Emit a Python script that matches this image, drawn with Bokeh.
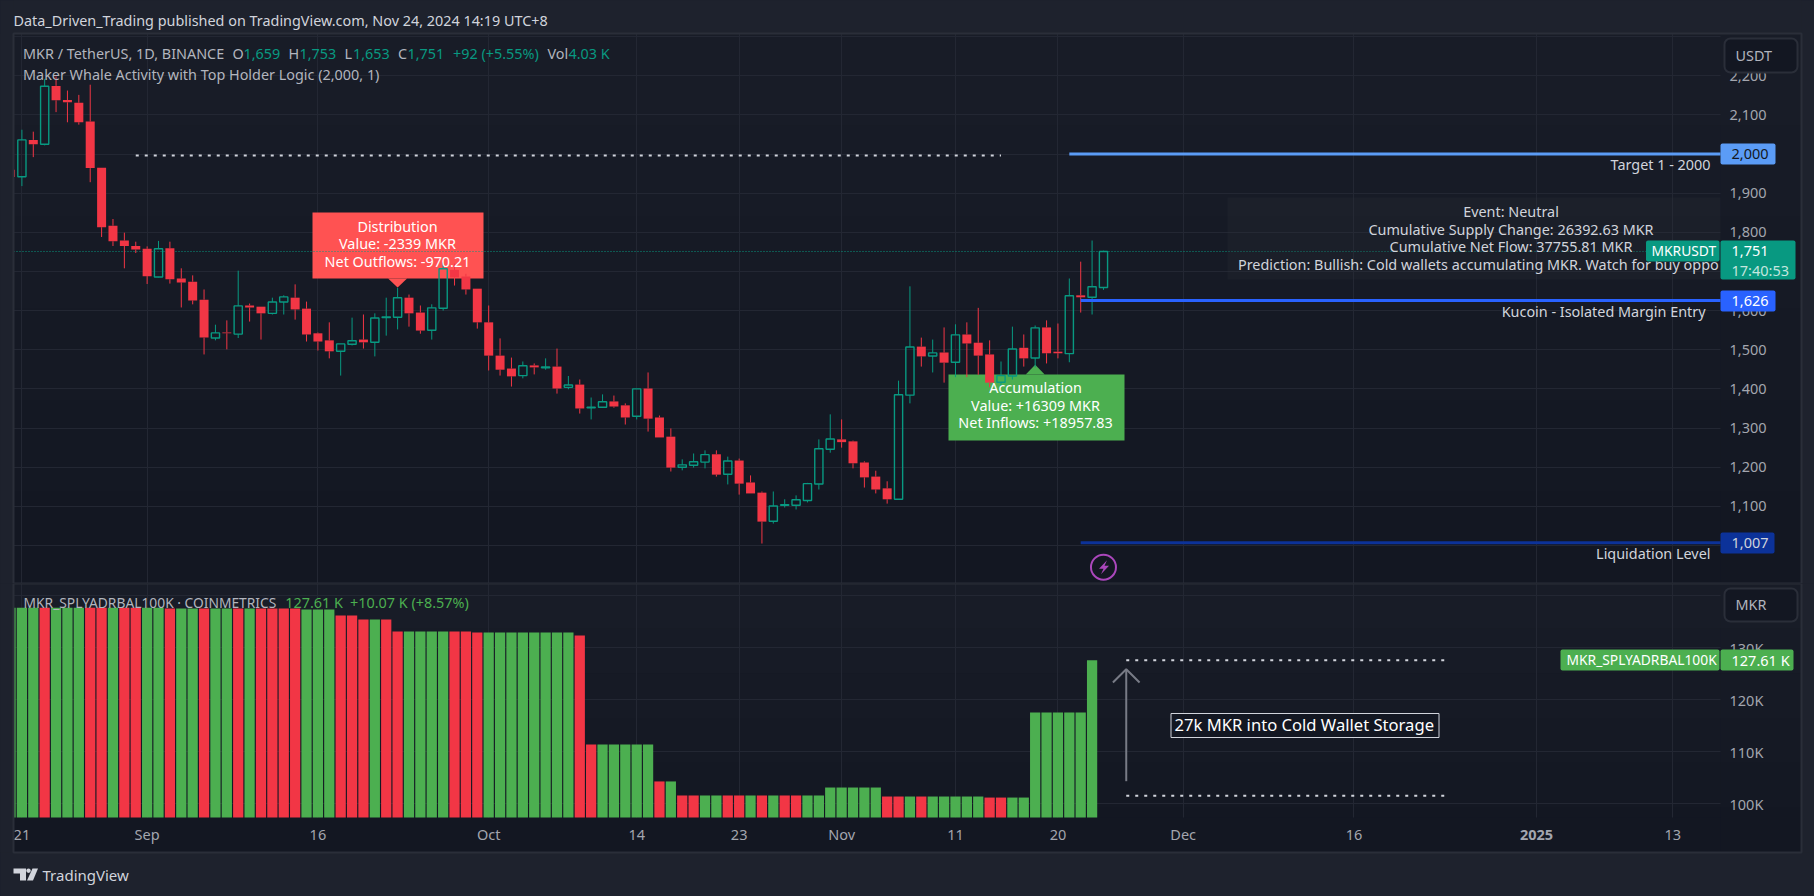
from bokeh.plotting import figure
from bokeh.layouts import column
from bokeh.embed import file_html
from bokeh.resources import INLINE
from bokeh.core.properties import value
from bokeh.models import (Range1d, FixedTicker, NumeralTickFormatter, Label, BoxAnnotation,
                          PolyAnnotation, GlobalInlineStyleSheet)
import math

# ---- data: one entry per day, the first one is 20 Aug 2024 ----
opens = [1960,1942,2036,2025,2174,2138,2131,2083,1965,1817,1779,1765,1758,1686,1759,1682,1674,1628,1530,1544,
         1540,1613,1610,1593,1622,1633,1605,1542,1524,1496,1514,1526,1519,1582,1583,1633,1595,1550,1606,1704,
         1687,1656,1570,1485,1452,1434,1460,1454,1457,1404,1411,1352,1353,1368,1358,1330,1401,1327,1278,1200,
         1205,1213,1233,1182,1217,1161,1135,1062,1103,1103,1115,1157,1246,1271,1266,1212,1176,1146,1118,1384,
         1508,1484,1493,1468,1539,1518,1488,1417,1433,1505,1479,1557,1495,1490,1639,1634,1659]
highs = [1975,2062,2057,2192,2198,2162,2151,2177,1965,1834,1799,1776,1764,1778,1776,1708,1690,1654,1564,1575,
         1702,1618,1610,1633,1639,1667,1623,1544,1570,1515,1582,1590,1593,1633,1658,1641,1613,1616,1723,1720,
         1694,1656,1613,1529,1480,1470,1465,1478,1503,1433,1424,1378,1386,1383,1363,1400,1442,1332,1299,1220,
         1235,1243,1243,1227,1222,1179,1138,1138,1118,1128,1160,1271,1335,1322,1268,1215,1191,1164,1421,1662,
         1531,1526,1557,1565,1570,1607,1524,1470,1559,1539,1562,1575,1567,1682,1725,1779,1753]
lows = [1935,1918,1992,2022,2107,2081,2075,1928,1788,1765,1708,1747,1668,1685,1669,1608,1616,1488,1524,1501,
        1530,1572,1526,1590,1590,1577,1521,1498,1478,1434,1511,1503,1483,1536,1552,1559,1541,1526,1600,1664,
        1641,1554,1447,1434,1406,1427,1437,1449,1388,1399,1337,1322,1353,1352,1309,1322,1291,1276,1189,1192,
        1199,1197,1176,1156,1130,1133,1005,1056,1097,1092,1110,1143,1237,1250,1197,1148,1133,1107,1118,1363,
        1457,1442,1416,1430,1430,1436,1404,1404,1424,1457,1455,1465,1478,1468,1595,1590,1653]
closes = [1941,2036,2025,2173,2137,2132,2081,1964,1813,1777,1765,1756,1688,1758,1680,1672,1626,1531,1543,1542,
          1612,1608,1593,1622,1635,1603,1539,1521,1496,1515,1523,1519,1581,1584,1633,1593,1549,1607,1707,1685,
          1654,1570,1485,1449,1432,1459,1455,1456,1401,1410,1350,1353,1367,1355,1327,1400,1324,1276,1199,1206,
          1214,1232,1181,1216,1158,1133,1061,1101,1104,1117,1158,1247,1272,1264,1210,1174,1143,1118,1385,1507,
          1483,1492,1467,1538,1516,1485,1416,1434,1502,1478,1556,1491,1491,1638,1634,1661,1751]
candle_days = list(range(-1, 96))

balance_k = [137.7,137.7,137.7,137.7,137.7,137.7,137.7,137.7,137.7,137.7,137.7,137.7,137.7,137.7,
             137.56,137.56,137.56,137.56,137.56,137.56,137.56,137.56,137.56,137.56,137.56,137.56,
             137.36,137.36,137.36,136.2,136.2,135.44,135.44,135.44,
             133.13,133.13,133.13,133.13,133.13,133.13,133.13,
             132.94,132.94,132.94,132.94,132.94,132.94,132.94,132.94,132.94,132.37,
             111.4,111.4,111.4,111.4,111.4,111.4,104.3,104.3,
             101.6,101.6,101.6,101.6,101.6,101.6,101.6,101.6,101.6,101.6,101.6,101.6,101.6,
             103.13,103.13,103.13,103.13,103.13,
             101.4,101.4,101.4,101.4,101.4,101.4,101.4,101.4,101.4,
             101.2,101.2,101.2,101.2,
             117.54,117.54,117.54,117.54,117.54,127.61]
balance_dirs = "gggrgggrrgrrggrggrggrgrrrrgggrrrgrrggggrrrggggggggrrgggggrgrrggrrgrgrrgggggggrrgrgggggrrgggggggg"
balance_days = list(range(-1, 95))

date_ticks = [0, 11, 26, 41, 54, 63, 72, 82, 91, 102, 117, 133, 145]
date_labels = ["21", "Sep", "16", "Oct", "14", "23", "Nov", "11", "20", "Dec", "16", "", "13"]
price_ticks = [1000,1100,1200,1300,1400,1500,1600,1700,1800,1900,2000,2100,2200,2300]
bal_ticks = [100, 110, 120, 130, 140]
bal_labels = ["100K", "110K", "120K", "130K", ""]

target_price, entry_price, liq_price, last_price = 2000, 1626, 1007, 1751
dotted_top = 1996
bal_hi, bal_lo = 127.61, 101.54

# ---- colours and scales ----
OUTER = "#1e222d"; EDGE = "#2a2e39"; GRID = "#232733"; AXTXT = "#a3a6af"; TXT = "#d1d4dc"
UP = "#089981"; DOWN = "#f23645"; BAR_UP = "#4caf50"; FONT = "Noto Sans"
T = "14.4px"; AX = "14.5px"

def X(sx): return (sx - 21.4) / 11.385
def Y1(sy): return 2000 - (sy - 153.5) / 0.3915
def Y2(sy): return 100 + (803.3 - sy) / 5.2

# the frames fill the canvases and the axes are pinned inside them, so that tags can sit over the axes
xr = Range1d(X(0), X(1814))
p1 = figure(width=1814, height=583, x_range=xr, y_range=Range1d(Y1(583), Y1(0)), output_backend="svg",
            toolbar_location=None, y_axis_location="right", min_border_left=0, min_border_right=0,
            min_border_top=0, min_border_bottom=0, background_fill_color=OUTER, border_fill_color=OUTER,
            outline_line_color=None)
p2 = figure(width=1814, height=313, x_range=xr, y_range=Range1d(Y2(896), Y2(583)), output_backend="svg",
            toolbar_location=None, y_axis_location="right", min_border_left=0, min_border_right=0,
            min_border_top=0, min_border_bottom=0, background_fill_color=OUTER, border_fill_color=OUTER,
            outline_line_color=None)
p1.stylesheets = [GlobalInlineStyleSheet(css="html,body{margin:0;background:#1e222d;overflow:hidden}")]
TOP = {id(p1): 0, id(p2): 583}

for p in (p1, p2):
    p.xgrid.ticker = FixedTicker(ticks=date_ticks)
    p.xgrid.grid_line_color = GRID
    p.ygrid.grid_line_color = GRID
    p.yaxis.fixed_location = X(1720)
    p.yaxis.axis_line_color = None
    p.yaxis.major_tick_line_color = None
    p.yaxis.minor_tick_line_color = None
    p.yaxis.major_tick_out = 0
    p.yaxis.major_tick_in = 0
    p.yaxis.major_label_standoff = 9
    p.yaxis.major_label_text_color = AXTXT
    p.yaxis.major_label_text_font = FONT
    p.yaxis.major_label_text_font_size = AX

p1.xaxis.visible = False
p1.yaxis.ticker = FixedTicker(ticks=price_ticks)
p1.ygrid.ticker = FixedTicker(ticks=price_ticks)
p1.yaxis.formatter = NumeralTickFormatter(format="0,0")
p1.yaxis.major_label_overrides = {2300: ""}

p2.yaxis.ticker = FixedTicker(ticks=bal_ticks)
p2.ygrid.ticker = FixedTicker(ticks=bal_ticks)
p2.yaxis.major_label_overrides = dict(zip(bal_ticks, bal_labels))
p2.xaxis.fixed_location = Y2(817)
p2.xaxis.ticker = FixedTicker(ticks=date_ticks)
p2.xaxis.major_label_overrides = dict(zip(date_ticks, date_labels))
p2.xaxis.axis_line_color = None
p2.xaxis.major_tick_line_color = None
p2.xaxis.minor_tick_line_color = None
p2.xaxis.major_tick_out = 0
p2.xaxis.major_tick_in = 0
p2.xaxis.major_label_standoff = 6
p2.xaxis.major_label_text_color = AXTXT
p2.xaxis.major_label_text_font = FONT
p2.xaxis.major_label_text_font_size = AX

def label(p, sx, sy, text, color=TXT, size=T, align="left", style="normal"):
    p.add_layout(Label(x=sx, y=sy - 1 - TOP[id(p)], x_units="canvas", y_units="canvas", text=text, text_color=color,
                       text_font=FONT, text_font_size=size, text_align=align, text_baseline="middle",
                       text_font_style=style, level="overlay"))

def box(p, l, r, t, b, fill, line=None, alpha=1, radius=0, width=1, level="overlay"):
    o = TOP[id(p)]
    p.add_layout(BoxAnnotation(left=l, right=r, top=t - o, bottom=b - o, left_units="canvas", right_units="canvas",
                               top_units="canvas", bottom_units="canvas", fill_color=fill, fill_alpha=alpha,
                               line_color=line, line_width=width, line_alpha=1, border_radius=radius, level=level))

# panes: a faint top-to-bottom gradient under the grid; the axis columns repeat it over the grid lines
shades = ["#181c27", "#171b26", "#161a25", "#151924", "#141823", "#131722"]
for p, f, top, bot in ((p1, Y1, 33, 583), (p2, Y2, 583, 852)):
    h = (bot - top) / len(shades)
    for i, c in enumerate(shades):
        box(p, 13, 1801, top + i * h, top + (i + 1) * h + 1, c, level="image")
        p.quad(left=[X(1720)], right=[X(1801)], top=[f(top + i * h)], bottom=[f(top + (i + 1) * h + 1)],
               fill_color=c, line_color=None)
p2.quad(left=[X(13)], right=[X(1720)], top=[Y2(817)], bottom=[Y2(852)], fill_color=shades[-1], line_color=None)

# callout boxes sit under the candles, their texts above
def callout(sl, sr, st, sb, tip_base, tip, cx, fill):
    p1.quad(left=[X(sl)], right=[X(sr)], top=[Y1(st)], bottom=[Y1(sb)], fill_color=fill, line_color=None)
    p1.patch([X(cx - 9.5), X(cx), X(cx + 9.5)], [Y1(tip_base), Y1(tip), Y1(tip_base)], fill_color=fill, line_color=None)

callout(312, 483, 212, 278, 278, 287, 397.1, "#ff5252")
callout(948, 1124, 374, 440, 374, 364.3, 1034.7, BAR_UP)
p1.segment([X(13)], [last_price], [X(1720)], [last_price], line_color=UP, line_dash="1 2", line_width=1)

# table
p1.quad(left=[X(1227)], right=[X(1720)], top=[Y1(197)], bottom=[Y1(279)], fill_color="#2a2e39", fill_alpha=0.25,
        line_color=None)

# candles
up = [i for i in range(len(opens)) if closes[i] >= opens[i]]
dn = [i for i in range(len(opens)) if closes[i] < opens[i]]
for idx, col in ((up, UP), (dn, DOWN)):
    xs = [candle_days[i] for i in idx]
    p1.segment(xs, [highs[i] for i in idx], xs, [max(opens[i], closes[i]) for i in idx], line_color=col, line_width=1)
    p1.segment(xs, [lows[i] for i in idx], xs, [min(opens[i], closes[i]) for i in idx], line_color=col, line_width=1)
p1.vbar(x=[candle_days[i] for i in dn], width=0.79, top=[opens[i] for i in dn], bottom=[closes[i] for i in dn],
        fill_color=DOWN, line_color=None)
p1.vbar(x=[candle_days[i] for i in up], width=0.72, top=[closes[i] for i in up], bottom=[opens[i] for i in up],
        fill_alpha=0, line_color=UP, line_width=1.4)

# drawings on the price pane
p1.segment([10], [dotted_top], [86], [dotted_top], line_color=TXT, line_width=2, line_dash="3 6")
p1.segment([92], [target_price], [X(1720)], [target_price], line_color="#5b9cf6", line_width=3)
p1.segment([93], [entry_price], [X(1720)], [entry_price], line_color="#2962ff", line_width=3)
p1.segment([93], [liq_price], [X(1720)], [liq_price], line_color="#0c3299", line_width=3)

# lightning marker
p1.scatter([95], [Y1(566.7)], size=25, marker="circle", fill_alpha=0, line_color="#ab47bc", line_width=2)
bx, by = 1103.5, 566.7
p1.patch([X(bx + s) for s in (3, -5, -0.5, -3, 5, 0.5)], [Y1(by + s) for s in (-7, 1.5, 1.5, 7, -1.5, -1.5)],
         fill_color="#ab47bc", line_color=None)

# strips of the page around the panes, over everything that reaches past the frames
box(p1, 0, 1814, 0, 33, OUTER)
box(p1, 0, 13, 0, 583, OUTER)
box(p1, 1801, 1814, 0, 583, OUTER)
box(p2, 0, 13, 583, 896, OUTER)
box(p2, 1801, 1814, 583, 896, OUTER)
box(p2, 0, 1814, 852, 896, OUTER)
box(p1, 13, 1801, 33, 583, None, EDGE, width=2)
box(p2, 13, 1801, 583, 852, None, EDGE, width=2)

# header
label(p1, 13, 21, "Data_Driven_Trading published on TradingView.com, Nov 24, 2024 14:19 UTC+8")
LEG = "#b2b5be"
label(p1, 22.5, 54, "MKR / TetherUS, 1D, BINANCE", LEG)
for sx, t, c in ((232, "O", LEG), (243, "1,659", UP), (288, "H", LEG), (299, "1,753", UP), (344, "L", LEG), (352.5, "1,653", UP),
                 (397.5, "C", LEG), (407, "1,751", UP), (452.5, "+92 (+5.55%)", UP), (547, "Vol", LEG), (568, "4.03 K", UP)):
    label(p1, sx, 54, t, c)
label(p1, 22.5, 75, "Maker Whale Activity with Top Holder Logic (2,000, 1)", LEG)

# callout texts
for sy, t in ((227, "Distribution"), (244, "Value: -2339 MKR"), (262, "Net Outflows: -970.21")):
    label(p1, 397, sy, t, "#ffffff", T, "center")
for sy, t in ((388, "Accumulation"), (405.7, "Value: +16309 MKR"), (422.7, "Net Inflows: +18957.83")):
    label(p1, 1035, sy, t, "#ffffff", T, "center")

# table text
for sy, t in ((212, "Event: Neutral"), (230, "Cumulative Supply Change: 26392.63 MKR"), (247, "Cumulative Net Flow: 37755.81 MKR")):
    label(p1, 1510.5, sy, t, TXT, T, "center")
label(p1, 1237.5, 265, "Prediction: Bullish: Cold wallets accumulating MKR. Watch for buy oppo", TXT, T)

# level labels
label(p1, 1710, 165, "Target 1 - 2000", TXT, T, "right")
label(p1, 1705, 312, "Kucoin - Isolated Margin Entry", TXT, T, "right")
label(p1, 1710, 554, "Liquidation Level", TXT, T, "right")

# axis tags
box(p1, 1720, 1775, 143, 164, "#5b9cf6", radius=2)
label(p1, 1731, 154, "2,000", "#131722", AX)
box(p1, 1720, 1775, 290, 311, "#2962ff", radius=2)
label(p1, 1731, 301, "1,626", "#ffffff", AX)
box(p1, 1720, 1774, 532, 553, "#0c3299", radius=2)
label(p1, 1731, 543, "1,007", TXT, AX)
box(p1, 1720, 1795, 240, 279, UP, radius=2)
label(p1, 1731, 251, "1,751", "#ffffff", AX)
label(p1, 1731, 270, "17:40:53", "#c4e6df", AX)
box(p1, 1645.5, 1719, 240, 261, UP, radius=2)
label(p1, 1651, 251, "MKRUSDT", "#ffffff", "13.8px")
box(p1, 1724, 1797, 38, 72, "#131722", EDGE, radius=6, width=2)
label(p1, 1735, 56, "USDT", LEG, T)

# ---- lower pane ----
bu = [i for i in range(len(balance_k)) if balance_dirs[i] == "g"]
bd = [i for i in range(len(balance_k)) if balance_dirs[i] == "r"]
for idx, col in ((bu, BAR_UP), (bd, DOWN)):
    p2.vbar(x=[balance_days[i] for i in idx], width=0.9, top=[balance_k[i] for i in idx], bottom=Y2(817),
            fill_color=col, line_color=None)

p2.segment([97, 97], [bal_hi, bal_lo], [125, 125], [bal_hi, bal_lo], line_color=TXT, line_width=2, line_dash="3 6")
ARW = "#787b86"
p2.segment([97], [Y2(780.7)], [97], [Y2(668.7)], line_color=ARW, line_width=2)
p2.line([97 - 1.17, 97, 97 + 1.17], [Y2(682), Y2(668.7), Y2(682)], line_color=ARW, line_width=2)
p2.quad(left=[X(1170.5)], right=[X(1438.5)], top=[Y2(713)], bottom=[Y2(737)], fill_color="#131722", line_color=TXT, line_width=1)
p2.text([X(1174)], [Y2(724)], text=["27k MKR into Cold Wallet Storage"], text_color="#ffffff", text_font=value(FONT),
        text_font_size="16.6px", text_baseline="middle", text_align="left")

label(p2, 23, 603, "MKR_SPLYADRBAL100K · COINMETRICS", LEG, "13.8px")
label(p2, 284.7, 603, "127.61 K", BAR_UP)
label(p2, 349.5, 603, "+10.07 K (+8.57%)", BAR_UP)
box(p2, 1560, 1719, 649, 670, BAR_UP, radius=2)
label(p2, 1566, 660, "MKR_SPLYADRBAL100K", "#ffffff", "13.8px")
box(p2, 1720, 1793, 649, 670, BAR_UP, radius=2)
label(p2, 1731, 660, "127.61 K", "#ffffff", AX)
box(p2, 1724, 1797, 588, 621, "#131722", EDGE, radius=6, width=2)
label(p2, 1735, 605, "MKR", LEG, T)
label(p2, 1536, 835, "2025", AXTXT, AX, "center", "bold")

# footer mark
LOGO = "#d1d4dc"
def poly(pts):
    p2.add_layout(PolyAnnotation(xs=[a for a, b in pts], ys=[b - 583 for a, b in pts], xs_units="canvas", ys_units="canvas",
                                 fill_color=LOGO, fill_alpha=1, line_color=None, level="overlay"))
poly([(13, 868), (25.5, 868), (25.5, 880), (19.5, 880), (19.5, 873), (13, 873)])
poly([(32, 868), (37.5, 868), (32.5, 880), (26.5, 880)])
poly([(28 + 2.3 * math.cos(a * math.pi / 4), 870.2 + 2.3 * math.sin(a * math.pi / 4)) for a in range(8)])
label(p2, 42, 875, "TradingView", LOGO, "15px")

open("out.html", "w").write(file_html(column(p1, p2, spacing=0), INLINE))
